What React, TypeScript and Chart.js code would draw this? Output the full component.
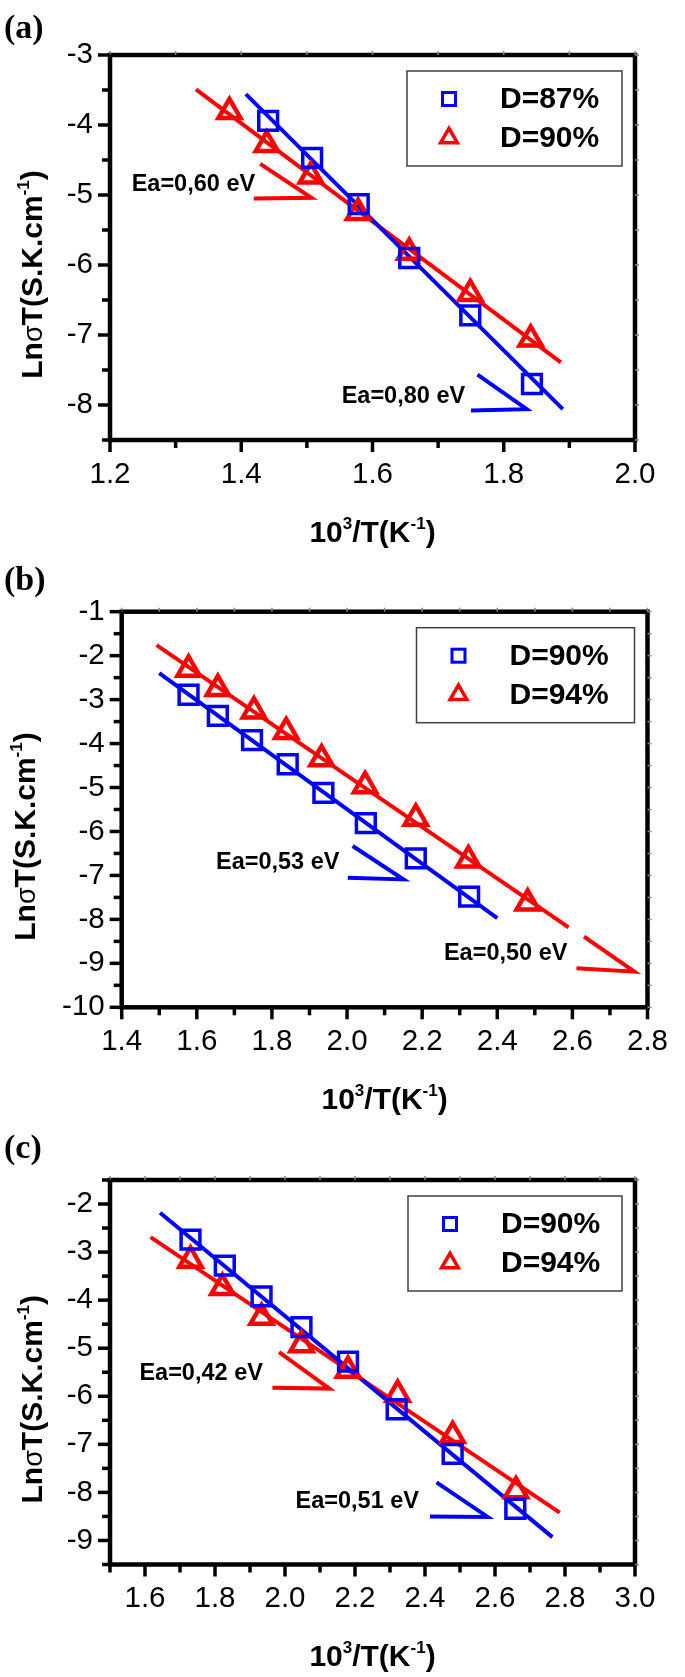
import React, { useEffect, useRef } from 'react';
import { Chart, registerables } from 'chart.js';

Chart.register(...registerables);

const BLUE = '#0000ff';
const RED = '#ff0000';
const SANS = '"Liberation Sans", Arial, sans-serif';
const SERIF = '"Liberation Serif", "Times New Roman", serif';

Chart.defaults.font.family = SANS;
Chart.defaults.font.size = 29.5;
Chart.defaults.color = '#000';

// ---------------- text ----------------
type Seg = { t: string; kind?: 'sup' | 'greek' };
const X_TITLE: Seg[] = [{ t: '10' }, { t: '3', kind: 'sup' }, { t: '/T(K' }, { t: '-1', kind: 'sup' }, { t: ')' }];
const Y_TITLE: Seg[] = [{ t: 'Ln' }, { t: 'σ', kind: 'greek' }, { t: 'T(S.K.cm' }, { t: '-1', kind: 'sup' }, { t: ')' }];

// ---------------- panel (a) ----------------
const A_X_RANGE = [1.2, 2.0];
const A_Y_RANGE = [-8.5, -3];
const A_LEGEND = ['D=87%', 'D=90%'];
const A_SQ_X = [1.441, 1.508, 1.579, 1.656, 1.749, 1.843];
const A_SQ_Y = [-3.94, -4.47, -5.13, -5.9, -6.72, -7.7];
const A_TR_X = [1.382, 1.439, 1.506, 1.578, 1.656, 1.749, 1.841];
const A_TR_Y = [-3.81, -4.28, -4.73, -5.25, -5.82, -6.41, -7.06];
const A_SQ_FIT_X = [1.407, 1.89];
const A_SQ_FIT_Y = [-3.56, -8.06];
const A_TR_FIT_X = [1.331, 1.887];
const A_TR_FIT_Y = [-3.49, -7.39];
const A_EA_TEXT = ['Ea=0,60 eV', 'Ea=0,80 eV'];
const A_EA_X = [1.233, 1.553];
const A_EA_Y = [-4.83, -7.86];
const A_RED_MARK_X = [1.429, 1.507, 1.419];
const A_RED_MARK_Y = [-4.555, -5.04, -5.05];
const A_BLUE_MARK_X = [1.76, 1.835, 1.75];
const A_BLUE_MARK_Y = [-7.565, -8.06, -8.08];

// ---------------- panel (b) ----------------
const B_X_RANGE = [1.4, 2.8];
const B_Y_RANGE = [-10, -1];
const B_LEGEND = ['D=90%', 'D=94%'];
const B_SQ_X = [1.578, 1.656, 1.747, 1.842, 1.937, 2.05, 2.183, 2.325];
const B_SQ_Y = [-2.89, -3.37, -3.92, -4.47, -5.12, -5.81, -6.61, -7.48];
const B_TR_X = [1.578, 1.656, 1.752, 1.838, 1.932, 2.048, 2.183, 2.323, 2.481];
const B_TR_Y = [-2.31, -2.75, -3.26, -3.73, -4.35, -4.96, -5.7, -6.65, -7.63];
const B_SQ_FIT_X = [1.5, 2.4];
const B_SQ_FIT_Y = [-2.4, -7.97];
const B_TR_FIT_X = [1.493, 2.59];
const B_TR_FIT_Y = [-1.76, -8.18];
const B_EA_TEXT = ['Ea=0,53 eV', 'Ea=0,50 eV'];
const B_EA_X = [1.651, 2.258];
const B_EA_Y = [-6.69, -8.76];
const B_RED_MARK_X = [2.631, 2.765, 2.611];
const B_RED_MARK_Y = [-8.39, -9.19, -9.11];
const B_BLUE_MARK_X = [2.015, 2.15, 2.002];
const B_BLUE_MARK_Y = [-6.33, -7.09, -7.05];

// ---------------- panel (c) ----------------
const C_X_RANGE = [1.5, 3.0];
const C_Y_RANGE = [-9.5, -1.5];
const C_LEGEND = ['D=90%', 'D=94%'];
const C_SQ_X = [1.73, 1.828, 1.933, 2.047, 2.18, 2.319, 2.479, 2.658];
const C_SQ_Y = [-2.74, -3.28, -3.92, -4.56, -5.28, -6.27, -7.2, -8.34];
const C_TR_X = [1.73, 1.821, 1.933, 2.047, 2.18, 2.322, 2.479, 2.66];
const C_TR_Y = [-3.17, -3.74, -4.36, -4.93, -5.46, -5.96, -6.82, -7.97];
const C_SQ_FIT_X = [1.643, 2.764];
const C_SQ_FIT_Y = [-2.18, -8.93];
const C_TR_FIT_X = [1.616, 2.785];
const C_TR_FIT_Y = [-2.69, -8.42];
const C_EA_TEXT = ['Ea=0,42 eV', 'Ea=0,51 eV'];
const C_EA_X = [1.584, 2.03];
const C_EA_Y = [-5.51, -8.16];
const C_RED_MARK_X = [1.983, 2.127, 1.964];
const C_RED_MARK_Y = [-5.08, -5.84, -5.82];
const C_BLUE_MARK_X = [2.433, 2.579, 2.414];
const C_BLUE_MARK_Y = [-7.79, -8.51, -8.5];

type Panel = {
  key: string;
  label: string;
  top: number;
  height: number;
  area: { left: number; top: number; right: number; bottom: number };
  labelTop: number;
  yTitleX: number;
  legendW: number;
  xRange: number[];
  yRange: number[];
  legend: string[];
  sqX: number[]; sqY: number[]; trX: number[]; trY: number[];
  sqFitX: number[]; sqFitY: number[]; trFitX: number[]; trFitY: number[];
  eaText: string[]; eaX: number[]; eaY: number[];
  redX: number[]; redY: number[]; blueX: number[]; blueY: number[];
};

const PANELS: Panel[] = [
  {
    key: 'a', label: '(a)', top: 0, height: 560,
    area: { left: 110, top: 55, right: 635, bottom: 440 },
    labelTop: 10, yTitleX: 41.7, legendW: 215,
    xRange: A_X_RANGE, yRange: A_Y_RANGE, legend: A_LEGEND,
    sqX: A_SQ_X, sqY: A_SQ_Y, trX: A_TR_X, trY: A_TR_Y,
    sqFitX: A_SQ_FIT_X, sqFitY: A_SQ_FIT_Y, trFitX: A_TR_FIT_X, trFitY: A_TR_FIT_Y,
    eaText: A_EA_TEXT, eaX: A_EA_X, eaY: A_EA_Y,
    redX: A_RED_MARK_X, redY: A_RED_MARK_Y, blueX: A_BLUE_MARK_X, blueY: A_BLUE_MARK_Y,
  },
  {
    key: 'b', label: '(b)', top: 560, height: 560,
    area: { left: 121.7, top: 51.7, right: 660, bottom: 447.3 },
    labelTop: 561.7, yTitleX: 35, legendW: 218,
    xRange: B_X_RANGE, yRange: B_Y_RANGE, legend: B_LEGEND,
    sqX: B_SQ_X, sqY: B_SQ_Y, trX: B_TR_X, trY: B_TR_Y,
    sqFitX: B_SQ_FIT_X, sqFitY: B_SQ_FIT_Y, trFitX: B_TR_FIT_X, trFitY: B_TR_FIT_Y,
    eaText: B_EA_TEXT, eaX: B_EA_X, eaY: B_EA_Y,
    redX: B_RED_MARK_X, redY: B_RED_MARK_Y, blueX: B_BLUE_MARK_X, blueY: B_BLUE_MARK_Y,
  },
  {
    key: 'c', label: '(c)', top: 1120, height: 557,
    area: { left: 110, top: 60, right: 635, bottom: 444.5 },
    labelTop: 1130, yTitleX: 41.7, legendW: 214,
    xRange: C_X_RANGE, yRange: C_Y_RANGE, legend: C_LEGEND,
    sqX: C_SQ_X, sqY: C_SQ_Y, trX: C_TR_X, trY: C_TR_Y,
    sqFitX: C_SQ_FIT_X, sqFitY: C_SQ_FIT_Y, trFitX: C_TR_FIT_X, trFitY: C_TR_FIT_Y,
    eaText: C_EA_TEXT, eaX: C_EA_X, eaY: C_EA_Y,
    redX: C_RED_MARK_X, redY: C_RED_MARK_Y, blueX: C_BLUE_MARK_X, blueY: C_BLUE_MARK_Y,
  },
];

const segFont = (k?: string) =>
  k === 'sup' ? `bold 17px ${SANS}` : k === 'greek' ? `27px ${SANS}` : `bold 30px ${SANS}`;

function richWidth(ctx: CanvasRenderingContext2D, segs: Seg[]) {
  let w = 0;
  segs.forEach((s) => {
    ctx.font = segFont(s.kind);
    w += ctx.measureText(s.t).width;
  });
  return w;
}

function drawRich(ctx: CanvasRenderingContext2D, segs: Seg[], cx: number, baseline: number) {
  const w = richWidth(ctx, segs);
  let x = cx - w / 2;
  ctx.textAlign = 'left';
  ctx.textBaseline = 'alphabetic';
  segs.forEach((s) => {
    ctx.font = segFont(s.kind);
    ctx.fillText(s.t, x, s.kind === 'sup' ? baseline - 13 : baseline);
    x += ctx.measureText(s.t).width;
  });
}

function triPath(ctx: CanvasRenderingContext2D, x: number, y: number, r: number) {
  ctx.beginPath();
  for (let i = 0; i < 3; i++) {
    const a = (i * 2 * Math.PI) / 3;
    const px = x + Math.sin(a) * r;
    const py = y - Math.cos(a) * r;
    if (i === 0) ctx.moveTo(px, py);
    else ctx.lineTo(px, py);
  }
  ctx.closePath();
}

const pts = (xs: number[], ys: number[]) => xs.map((x, i) => ({ x, y: ys[i] }));

function PanelChart({ p }: { p: Panel }) {
  const ref = useRef<HTMLCanvasElement>(null);
  useEffect(() => {
    const canvas = ref.current;
    if (!canvas) return;
    const deco = {
      id: 'deco_' + p.key,
      afterDatasetsDraw(chart: any) {
        const ctx: CanvasRenderingContext2D = chart.ctx;
        const { left, right, top, bottom } = chart.chartArea;
        const xs = chart.scales.x;
        const ys = chart.scales.y;
        ctx.save();
        // frame
        ctx.strokeStyle = '#000';
        ctx.lineWidth = 4.5;
        ctx.strokeRect(left, top, right - left, bottom - top);
        // ticks
        ctx.lineCap = 'butt';
        xs.ticks.forEach((t: any) => {
          const px = xs.getPixelForValue(t.value);
          const major = t.label !== '';
          const L = major ? 10 : 6;
          ctx.strokeStyle = '#000';
          ctx.lineWidth = 3.5;
          ctx.beginPath();
          ctx.moveTo(px, bottom);
          ctx.lineTo(px, bottom + 2 + L);
          ctx.stroke();
          ctx.strokeStyle = '#888';
          ctx.lineWidth = 1.5;
          ctx.beginPath();
          ctx.moveTo(px, top);
          ctx.lineTo(px, top - 4);
          ctx.stroke();
        });
        ys.ticks.forEach((t: any) => {
          const py = ys.getPixelForValue(t.value);
          const major = t.label !== '';
          const L = major ? 10 : 6;
          ctx.strokeStyle = '#000';
          ctx.lineWidth = 3.5;
          ctx.beginPath();
          ctx.moveTo(left, py);
          ctx.lineTo(left - 2 - L, py);
          ctx.stroke();
          ctx.strokeStyle = '#888';
          ctx.lineWidth = 1.5;
          ctx.beginPath();
          ctx.moveTo(right, py);
          ctx.lineTo(right + 4, py);
          ctx.stroke();
        });
        // axis titles
        ctx.fillStyle = '#000';
        drawRich(ctx, X_TITLE, (left + right) / 2, bottom + 101.5);
        ctx.save();
        ctx.translate(p.yTitleX, (top + bottom) / 2 + 27);
        ctx.rotate(-Math.PI / 2);
        drawRich(ctx, Y_TITLE, 0, 0);
        ctx.restore();
        // activation energy labels
        ctx.font = `bold 23.5px ${SANS}`;
        ctx.textAlign = 'left';
        ctx.textBaseline = 'middle';
        ctx.fillStyle = '#000';
        p.eaText.forEach((s, i) => {
          ctx.fillText(s, xs.getPixelForValue(p.eaX[i]), ys.getPixelForValue(p.eaY[i]) + 1);
        });
        // legend
        const bw = p.legendW;
        const bh = 95;
        const bx = right - 13 - bw;
        const by = top + 16;
        ctx.lineWidth = 1.5;
        ctx.strokeStyle = '#404040';
        ctx.strokeRect(bx, by, bw, bh);
        const mx = bx + 42;
        ctx.strokeStyle = BLUE;
        ctx.lineWidth = 3;
        ctx.strokeRect(mx - 6.5, by + 28 - 6.5, 13, 13);
        ctx.strokeStyle = RED;
        ctx.lineWidth = 3.5;
        triPath(ctx, mx, by + 67, 9.7);
        ctx.stroke();
        ctx.fillStyle = '#000';
        ctx.font = `bold 30px ${SANS}`;
        ctx.textBaseline = 'middle';
        ctx.fillText(p.legend[0], bx + 93, by + 29);
        ctx.fillText(p.legend[1], bx + 93, by + 68);
        ctx.restore();
      },
    };

    const tickFont = { family: SANS, size: 29.5, weight: 'normal', lineHeight: 1.2 };
    const chart = new Chart(canvas, {
      type: 'scatter',
      data: {
        datasets: [
          {
            label: p.legend[0],
            data: pts(p.sqX, p.sqY),
            showLine: false,
            pointStyle: 'rect',
            pointRadius: 13.3,
            borderWidth: 3.5,
            borderColor: BLUE,
            backgroundColor: 'rgba(0,0,0,0)',
          },
          {
            label: p.legend[1],
            data: pts(p.trX, p.trY),
            showLine: false,
            pointStyle: 'triangle',
            pointRadius: 12.8,
            borderWidth: 4.5,
            borderColor: RED,
            backgroundColor: 'rgba(0,0,0,0)',
          },
          {
            label: 'fit ' + p.legend[0],
            data: pts(p.sqFitX, p.sqFitY),
            showLine: true,
            pointRadius: 0,
            borderWidth: 4,
            borderColor: BLUE,
          },
          {
            label: 'fit ' + p.legend[1],
            data: pts(p.trFitX, p.trFitY),
            showLine: true,
            pointRadius: 0,
            borderWidth: 4,
            borderColor: RED,
          },
          {
            label: 'Ea mark red',
            data: pts(p.redX, p.redY),
            showLine: true,
            pointRadius: 0,
            borderWidth: 4,
            borderColor: RED,
          },
          {
            label: 'Ea mark blue',
            data: pts(p.blueX, p.blueY),
            showLine: true,
            pointRadius: 0,
            borderWidth: 4,
            borderColor: BLUE,
          },
        ],
      },
      options: {
        responsive: false,
        animation: false,
        events: [],
        layout: {
          autoPadding: false,
          padding: { top: p.area.top, right: 685 - p.area.right, bottom: 0, left: 0 },
        },
        plugins: { legend: { display: false }, tooltip: { enabled: false }, title: { display: false } },
        scales: {
          x: {
            type: 'linear',
            position: 'bottom',
            min: p.xRange[0],
            max: p.xRange[1],
            grid: { display: false, drawTicks: false },
            border: { display: false },
            ticks: {
              stepSize: 0.1,
              autoSkip: false,
              maxRotation: 0,
              minRotation: 0,
              padding: 17,
              color: '#000',
              font: tickFont,
              callback: (v: any) => {
                const n = Math.round(Number(v) * 10);
                return n % 2 === 0 ? (n / 10).toFixed(1) : '';
              },
            },
            afterFit: (s: any) => {
              s.height = p.height - p.area.bottom;
            },
          },
          y: {
            type: 'linear',
            position: 'left',
            min: p.yRange[0],
            max: p.yRange[1],
            grid: { display: false, drawTicks: false },
            border: { display: false },
            ticks: {
              stepSize: 0.5,
              autoSkip: false,
              padding: 17,
              color: '#000',
              font: tickFont,
              callback: (v: any) => {
                const n = Number(v);
                return Math.abs(n - Math.round(n)) < 1e-6 ? String(Math.round(n)) : '';
              },
            },
            afterFit: (s: any) => {
              s.width = p.area.left;
            },
          },
        },
      } as any,
      plugins: [deco],
    });
    return () => chart.destroy();
  }, []);
  return (
    <canvas
      ref={ref}
      width={685}
      height={p.height}
      style={{ position: 'absolute', left: 0, top: p.top, width: 685, height: p.height, display: 'block' }}
    />
  );
}

export default function App() {
  return (
    <div style={{ position: 'absolute', left: 0, top: 0, width: 685, height: 1677, background: '#fff', overflow: 'hidden' }}>
      {PANELS.map((p) => (
        <PanelChart key={p.key} p={p} />
      ))}
      {PANELS.map((p) => (
        <div
          key={'lbl' + p.key}
          style={{
            position: 'absolute',
            left: 4,
            top: p.labelTop,
            fontFamily: SERIF,
            fontWeight: 'bold',
            fontSize: 34,
            lineHeight: '34px',
            color: '#000',
          }}
        >
          {p.label}
        </div>
      ))}
    </div>
  );
}
